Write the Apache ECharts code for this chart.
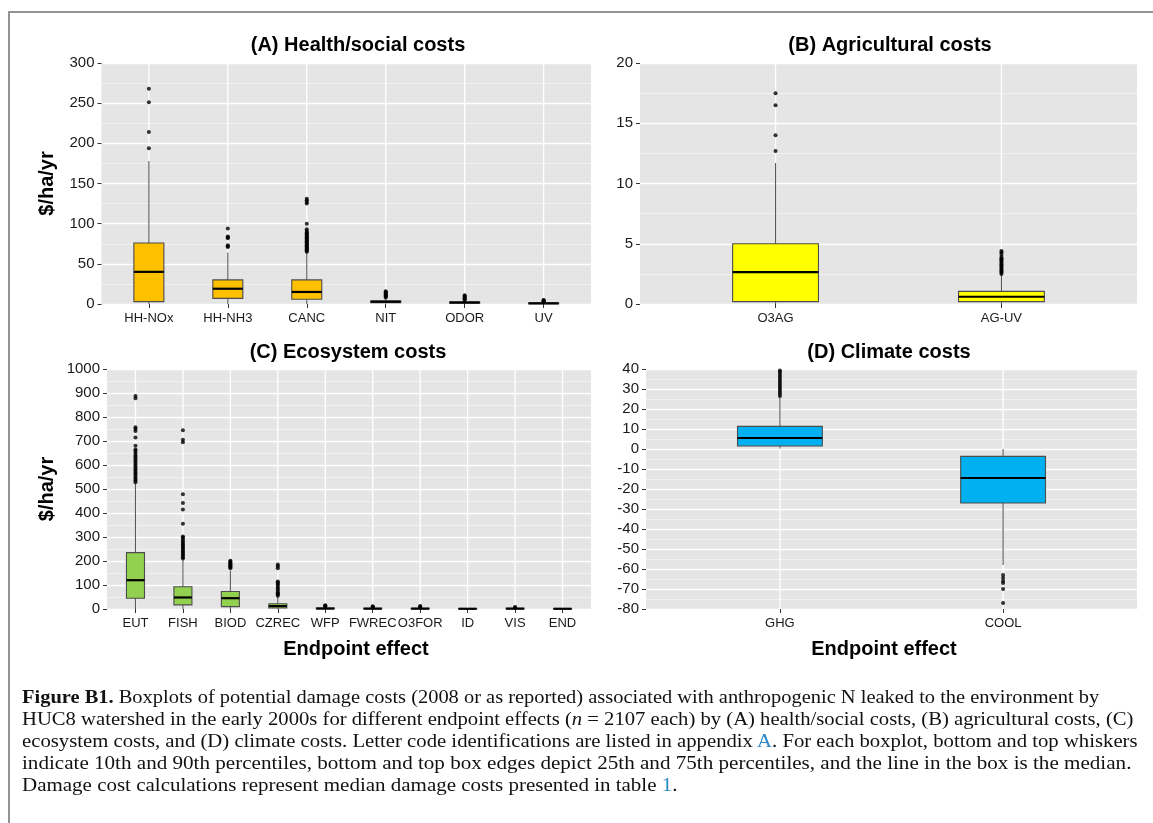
<!DOCTYPE html>
<html>
<head>
<meta charset="utf-8">
<script src="https://cdn.jsdelivr.net/npm/echarts@6/dist/echarts.min.js"></script>
<style>
  html, body { margin: 0; padding: 0; background: #fff; width: 1153px; height: 823px; overflow: hidden; }
  #chart { position: absolute; left: 0; top: 0; width: 1153px; height: 823px; }
  #frame { position: absolute; left: 8px; top: 11px; width: 1200px; height: 900px; border: 2px solid #939393; box-sizing: border-box; pointer-events: none; }
  #caption { position: absolute; left: 22px; top: 0; font-family: 'Liberation Serif', 'DejaVu Serif', serif; font-size: 19px; color: #111; }
  #caption .ln { position: absolute; left: 0; white-space: nowrap; transform-origin: 0 50%; line-height: 22px; }
  #caption .blue { color: #2b88c8; }
</style>
</head>
<body>
<div id="chart"></div>
<div id="frame"></div>
<div id="caption">
  <div class="ln" data-w="1077" data-y="697"><b>Figure B1.</b> Boxplots of potential damage costs (2008 or as reported) associated with anthropogenic N leaked to the environment by</div>
  <div class="ln" data-w="1112" data-y="719">HUC8 watershed in the early 2000s for different endpoint effects (<i>n</i> = 2107 each) by (A) health/social costs, (B) agricultural costs, (C)</div>
  <div class="ln" data-w="1116" data-y="741">ecosystem costs, and (D) climate costs. Letter code identifications are listed in appendix <span class="blue">A</span>. For each boxplot, bottom and top whiskers</div>
  <div class="ln" data-w="1109" data-y="763">indicate 10th and 90th percentiles, bottom and top box edges depict 25th and 75th percentiles, and the line in the box is the median.</div>
  <div class="ln" data-w="656" data-y="785">Damage cost calculations represent median damage costs presented in table <span class="blue">1</span>.</div>
</div>
<script>
// ---------------- DATA ----------------
// (A) Health/social costs
const healthCats = ['HH-NOx', 'HH-NH3', 'CANC', 'NIT', 'ODOR', 'UV'];
// [lower whisker, Q1, median, Q3, upper whisker]
const healthStats = [
  [0, 3, 40, 76, 178],
  [0, 7, 19, 30, 64],
  [0, 6, 15, 30, 64],
  [0.5, 1.5, 2.8, 4, 7],
  [0.3, 1, 1.8, 2.8, 4.5],
  [0, 0.3, 0.8, 1.5, 2.5]
];
const healthOutliers = [
  [194, 214, 251, 268],
  [71, 72, 73, 82, 83, 84, 94],
  [65, 66, 67, 68, 69, 70, 71, 72, 73, 74, 75, 76, 77, 78, 79, 80, 81, 82, 83, 84, 85, 86, 87, 88, 89, 91, 93, 100, 125, 127, 129, 131],
  [8, 9, 10, 11, 12, 13, 14, 15, 16],
  [5, 6, 7, 8, 9, 10, 11],
  [3, 3.5, 4, 4.5, 5]
];

// (B) Agricultural costs
const agriCats = ['O3AG', 'AG-UV'];
const agriStats = [
  [0, 0.2, 2.65, 5.0, 11.7],
  [0, 0.2, 0.6, 1.05, 2.4]
];
const agriOutliers = [
  [12.7, 14.0, 16.5, 17.5],
  [2.5, 2.6, 2.7, 2.8, 2.9, 3.0, 3.1, 3.2, 3.3, 3.4, 3.5, 3.6, 3.7, 3.8, 3.9, 4.1, 4.3, 4.4]
];

// (C) Ecosystem costs
const ecoCats = ['EUT', 'FISH', 'BIOD', 'CZREC', 'WFP', 'FWREC', 'O3FOR', 'ID', 'VIS', 'END'];
const ecoStats = [
  [0, 45, 120, 235, 525],
  [0, 17, 48, 93, 205],
  [0, 10, 45, 73, 160],
  [0, 4, 12, 22, 50],
  [0, 0.5, 2, 4, 8],
  [0, 0.5, 1.5, 3, 6],
  [0, 0.5, 1.5, 3, 6],
  [0, 0.3, 1, 2, 3],
  [0, 0.5, 1.5, 3, 5],
  [0, 0.3, 1, 2, 3]
];
const ecoOutliers = [
  [528, 535, 542, 548, 555, 562, 568, 575, 582, 590, 598, 605, 612, 620, 628, 635, 642, 650, 658, 665, 680, 715, 742, 750, 757, 878, 888],
  [210, 216, 222, 228, 234, 240, 246, 252, 258, 264, 270, 276, 282, 290, 298, 302, 355, 415, 442, 478, 695, 705, 745],
  [170, 174, 178, 182, 186, 190, 194, 198, 201],
  [55, 60, 65, 70, 78, 85, 92, 100, 105, 110, 115, 170, 178, 185],
  [10, 12, 14, 16],
  [7, 9, 11],
  [7, 9, 12],
  [],
  [6, 8],
  []
];

// (D) Climate costs
const climCats = ['GHG', 'COOL'];
const climStats = [
  [0.3, 1.5, 5.5, 11.3, 26],
  [-58, -27, -14.5, -3.7, 0]
];
const climOutliers = [
  [26.5, 27.5, 28.5, 29.5, 30.5, 31.5, 32.5, 33.5, 34.5, 35.5, 36.5, 37.5, 38.5, 39.3],
  [-63, -64.5, -66, -67, -70, -77]
];

// ---------------- STYLE / LAYOUT ----------------
const FONT = "'Liberation Sans', Arial, Helvetica, sans-serif";
const BOX_FRAC = 0.38;
const panels = [
  { cats: healthCats, stats: healthStats, outl: healthOutliers, color: '#FFC000', min: 0, max: 300, interval: 50,
    grid: { left: 101.5, top: 63, width: 489.5, height: 241 }, title: '(A) Health/social costs', titleX: 358, titleY: 45 },
  { cats: agriCats, stats: agriStats, outl: agriOutliers, color: '#FFFF00', min: 0, max: 20, interval: 5,
    grid: { left: 640, top: 63, width: 497, height: 241 }, title: '(B) Agricultural costs', titleX: 890, titleY: 45 },
  { cats: ecoCats, stats: ecoStats, outl: ecoOutliers, color: '#92D050', min: 0, max: 1000, interval: 100,
    grid: { left: 107, top: 369, width: 484, height: 240 }, title: '(C) Ecosystem costs', titleX: 348, titleY: 352 },
  { cats: climCats, stats: climStats, outl: climOutliers, color: '#00B0F0', min: -80, max: 40, interval: 10,
    grid: { left: 646, top: 369, width: 491, height: 240 }, title: '(D) Climate costs', titleX: 889, titleY: 352 }
];

const grids = [], xAxes = [], yAxes = [], series = [], graphics = [];

panels.forEach((p, gi) => {
  grids.push(Object.assign({ show: true, backgroundColor: '#E5E5E5', borderWidth: 0, containLabel: false, outerBoundsMode: 'none' }, p.grid));
  const idx = p.cats.map((c, i) => i);
  xAxes.push({
    type: 'value', gridIndex: gi, min: -0.6, max: p.cats.length - 0.4, position: 'bottom',
    axisLine: { show: false, onZero: false },
    splitLine: { show: false },
    axisTick: { show: true, customValues: idx, length: 4, lineStyle: { color: '#333', width: 1 } },
    axisLabel: { customValues: idx, formatter: v => p.cats[Math.round(v)], fontSize: 13, color: '#1a1a1a', margin: 8, fontFamily: FONT }
  });
  yAxes.push({
    type: 'value', gridIndex: gi, min: p.min, max: p.max, interval: p.interval, position: 'left',
    axisLine: { show: false, onZero: false },
    axisTick: { show: true, length: 4, lineStyle: { color: '#333', width: 1 } },
    axisLabel: { fontSize: 15, color: '#1a1a1a', margin: 7, fontFamily: FONT, formatter: v => String(v) },
    splitLine: { show: true, lineStyle: { color: '#ffffff', width: 1.3 } },
    minorTick: { show: false, splitNumber: 2 },
    minorSplitLine: { show: true, lineStyle: { color: '#f4f4f4', width: 0.8 } }
  });
  const color = p.color;
  series.push({
    type: 'custom', xAxisIndex: gi, yAxisIndex: gi, silent: true, z: 2,
    data: p.stats.map((s, i) => [i].concat(s)),
    encode: { x: 0, y: [1, 2, 3, 4, 5] },
    renderItem: function (params, api) {
      const x = api.value(0);
      const pLo = api.coord([x, api.value(1)]);
      const pQ1 = api.coord([x, api.value(2)]);
      const pMed = api.coord([x, api.value(3)]);
      const pQ3 = api.coord([x, api.value(4)]);
      const pHi = api.coord([x, api.value(5)]);
      const w = api.size([BOX_FRAC, 0])[0];
      const cs = params.coordSys;
      const cx = pMed[0];
      return {
        type: 'group',
        children: [
          { type: 'line', shape: { x1: cx, y1: cs.y, x2: cx, y2: cs.y + cs.height }, style: { stroke: '#ffffff', lineWidth: 1.3 } },
          { type: 'line', shape: { x1: cx, y1: pLo[1], x2: cx, y2: pHi[1] }, style: { stroke: '#5a5a5a', lineWidth: 1.1 } },
          { type: 'rect', shape: { x: cx - w / 2, y: pQ3[1], width: w, height: Math.max(pQ1[1] - pQ3[1], 0.5) },
            style: { fill: color, stroke: '#4d4d4d', lineWidth: 1.1 } },
          { type: 'line', shape: { x1: cx - w / 2, y1: pMed[1], x2: cx + w / 2, y2: pMed[1] }, style: { stroke: '#000', lineWidth: 2.2 } }
        ]
      };
    }
  });
  const pts = [];
  p.outl.forEach((arr, i) => arr.forEach(v => pts.push([i, v])));
  series.push({
    type: 'scatter', xAxisIndex: gi, yAxisIndex: gi, silent: true, z: 3,
    data: pts, symbol: 'circle', symbolSize: 4, itemStyle: { color: '#000' }
  });
  graphics.push({ type: 'text', x: p.titleX, y: p.titleY, z: 10,
    style: { text: p.title, textAlign: 'center', textVerticalAlign: 'middle', font: 'bold 20px ' + FONT, fill: '#000' } });
});

// axis titles
graphics.push({ type: 'text', x: 47, y: 183.5, rotation: Math.PI / 2, z: 10,
  style: { text: '$/ha/yr', textAlign: 'center', textVerticalAlign: 'middle', font: 'bold 20px ' + FONT, fill: '#000' } });
graphics.push({ type: 'text', x: 47, y: 489, rotation: Math.PI / 2, z: 10,
  style: { text: '$/ha/yr', textAlign: 'center', textVerticalAlign: 'middle', font: 'bold 20px ' + FONT, fill: '#000' } });
graphics.push({ type: 'text', x: 356, y: 649, z: 10,
  style: { text: 'Endpoint effect', textAlign: 'center', textVerticalAlign: 'middle', font: 'bold 20px ' + FONT, fill: '#000' } });
graphics.push({ type: 'text', x: 884, y: 649, z: 10,
  style: { text: 'Endpoint effect', textAlign: 'center', textVerticalAlign: 'middle', font: 'bold 20px ' + FONT, fill: '#000' } });

const chart = echarts.init(document.getElementById('chart'), null, { renderer: 'canvas' });
chart.setOption({
  animation: false,
  backgroundColor: 'transparent',
  grid: grids,
  xAxis: xAxes,
  yAxis: yAxes,
  series: series,
  graphic: graphics
});

// caption line fitting
document.querySelectorAll('#caption .ln').forEach(el => {
  const target = parseFloat(el.dataset.w);
  const w = el.scrollWidth;
  const s = target / w;
  const y = parseFloat(el.dataset.y);
  el.style.top = (y - 11) + 'px';
  el.style.transform = 'scaleX(' + s + ')';
});
</script>
</body>
</html>
